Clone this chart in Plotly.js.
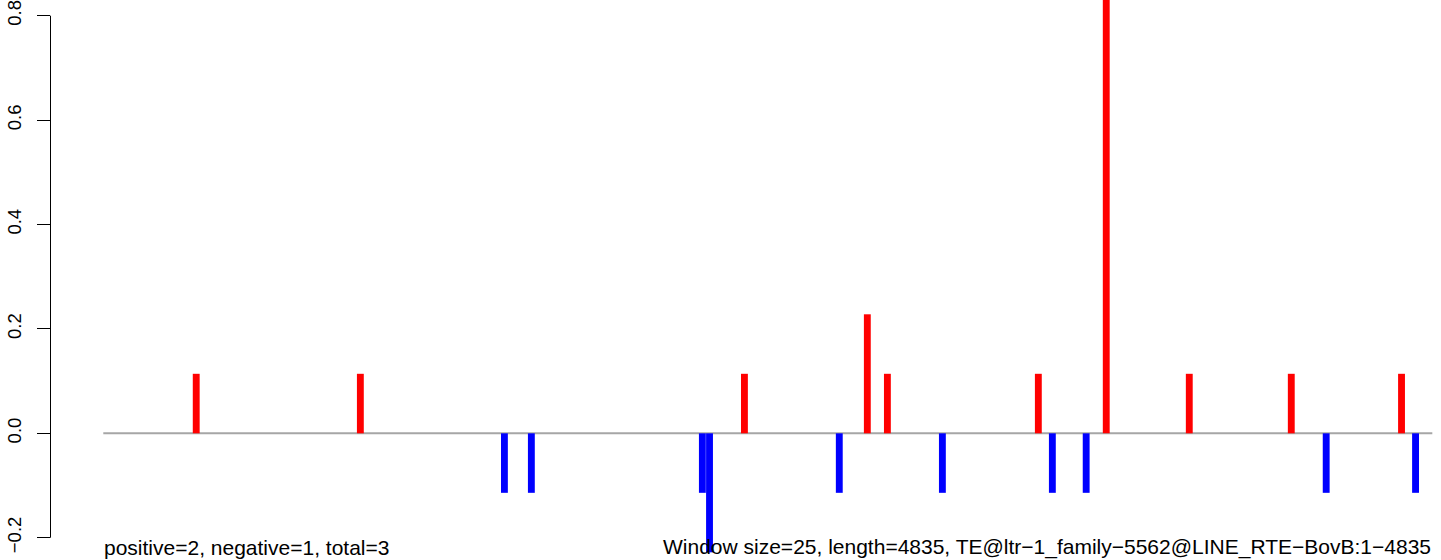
<!DOCTYPE html>
<html>
<head>
<meta charset="utf-8">
<script src="https://cdn.plot.ly/plotly-3.0.1.min.js"></script>
<style>
  html, body { margin: 0; padding: 0; background: #ffffff; }
  #chart { width: 1441px; height: 560px; }
</style>
</head>
<body>
<div id="chart"></div>
<script>
// ---- data ----
const windowSize = 25;
const seqStart = 1;
const seqLength = 4835;

// positive windows (bp position of window centre) and their scores
const posX = [339, 936, 2333, 2780, 2853, 3402, 3649, 3951, 4322, 4723];
const posY = [0.114, 0.114, 0.114, 0.228, 0.114, 0.114, 0.92, 0.114, 0.114, 0.114];

// negative windows
const negX = [1460, 1558, 2180, 2206, 2678, 3053, 3453, 3576, 4449, 4774];
const negY = [-0.114, -0.114, -0.114, -0.228, -0.114, -0.114, -0.114, -0.114, -0.114, -0.114];

// y axis ticks
const yTickVals = [-0.2, 0.0, 0.2, 0.4, 0.6, 0.8];
const yTickText = ['\u22120.2', '0.0', '0.2', '0.4', '0.6', '0.8'];

// captions
const leftCaption = 'positive=2, negative=1, total=3';
const rightCaption = 'Window size=25, length=4835, TE@ltr\u22121_family\u22125562@LINE_RTE\u2212BovB:1\u22124835';

// ---- traces ----
const traces = [
  {
    type: 'bar', x: posX, y: posY, base: 0,
    width: posX.map(() => windowSize),
    marker: { color: '#FF0000', line: { width: 0 } },
    hoverinfo: 'x+y', showlegend: false
  },
  {
    type: 'bar', x: negX, y: negY, base: 0,
    width: negX.map(() => windowSize),
    marker: { color: '#0000FF', line: { width: 0 } },
    hoverinfo: 'x+y', showlegend: false
  }
];

const plotLeft = 51;
const plotW = 1441 - plotLeft;

const layout = {
  width: 1441,
  height: 560,
  margin: { l: plotLeft, r: 0, t: 0, b: 0, pad: 0 },
  paper_bgcolor: '#ffffff',
  plot_bgcolor: '#ffffff',
  barmode: 'overlay',
  showlegend: false,
  font: { family: 'Liberation Sans, Arial, Helvetica, sans-serif', color: '#000000' },
  xaxis: {
    range: [-189.2, 4866.6],
    visible: false,
    showgrid: false,
    zeroline: false,
    fixedrange: true
  },
  yaxis: {
    range: [-0.2427, 0.8301],
    tickmode: 'array',
    tickvals: yTickVals,
    ticktext: yTickText,
    tickangle: -90,
    ticks: 'outside',
    ticklen: 13,
    tickwidth: 1,
    tickcolor: '#000000',
    ticklabelstandoff: 9,
    tickfont: { family: 'Liberation Sans, Arial, sans-serif', size: 18.5, color: '#000000' },
    showgrid: false,
    zeroline: false,
    showline: false,
    fixedrange: true
  },
  shapes: [
    // baseline at zero along the sequence
    {
      type: 'line', xref: 'x', yref: 'y', layer: 'below',
      x0: seqStart, x1: seqLength, y0: 0, y1: 0,
      line: { color: '#A6A6A6', width: 2 }
    },
    // y axis line spanning the tick range
    {
      type: 'line', xref: 'paper', yref: 'y',
      x0: -0.5 / plotW, x1: -0.5 / plotW,
      y0: yTickVals[0], y1: yTickVals[yTickVals.length - 1],
      line: { color: '#000000', width: 1 }
    }
  ],
  annotations: [
    {
      xref: 'x', yref: 'paper', x: seqStart, y: 13 / 560,
      xanchor: 'left', yanchor: 'middle', showarrow: false,
      text: leftCaption, borderpad: 0,
      font: { family: 'Liberation Sans, Arial, sans-serif', size: 21, color: '#000000' }
    },
    {
      xref: 'x', yref: 'paper', x: seqLength, y: 13 / 560,
      xanchor: 'right', yanchor: 'middle', showarrow: false,
      text: rightCaption, borderpad: 0,
      font: { family: 'Liberation Sans, Arial, sans-serif', size: 21, color: '#000000' }
    }
  ]
};

Plotly.newPlot('chart', traces, layout, { displayModeBar: false, staticPlot: true });
</script>
</body>
</html>
